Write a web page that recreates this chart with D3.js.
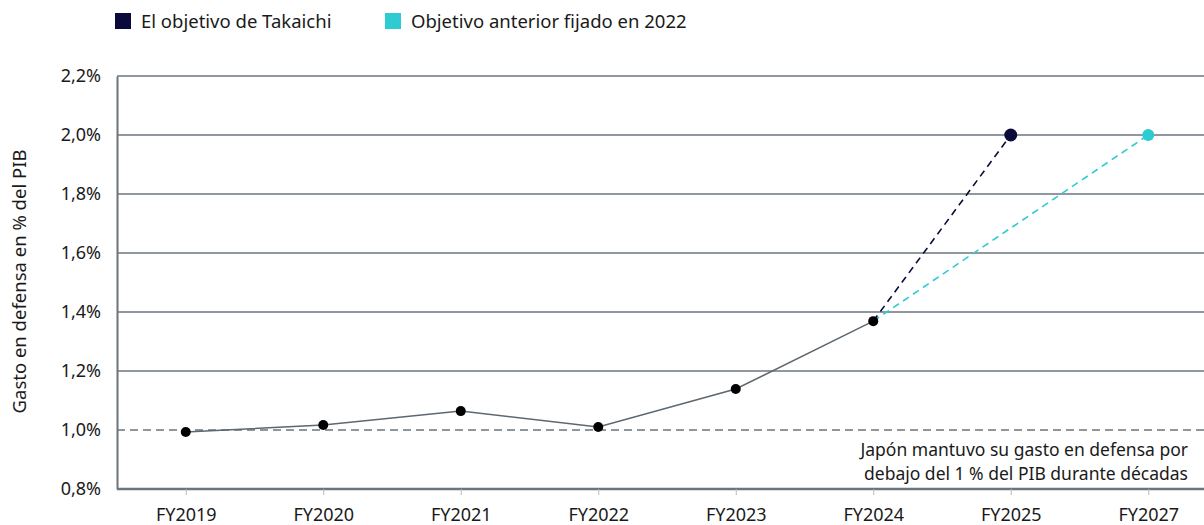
<!DOCTYPE html>
<html>
<head>
<meta charset="utf-8">
<script src="https://cdn.jsdelivr.net/npm/d3@7"></script>
<style>
  body { margin: 0; background: #fff; }
  svg text { font-family: "Noto Sans", sans-serif; fill: #1a1a1a; }
</style>
</head>
<body>
<svg id="chart" width="1204" height="525"></svg>
<script>
const years = ['FY2019', 'FY2020', 'FY2021', 'FY2022', 'FY2023', 'FY2024', 'FY2025', 'FY2027']
const actualYears = ['FY2019', 'FY2020', 'FY2021', 'FY2022', 'FY2023', 'FY2024']
const actualValues = [0.993, 1.017, 1.064, 1.010, 1.139, 1.369]
const takaichiYears = ['FY2024', 'FY2025']
const takaichiValues = [1.369, 2.0]
const previousYears = ['FY2024', 'FY2027']
const previousValues = [1.369, 2.0]
const yTicks = [0.8, 1.0, 1.2, 1.4, 1.6, 1.8, 2.0, 2.2]
const legendLabels = ['El objetivo de Takaichi', 'Objetivo anterior fijado en 2022']
const noteLines = ['Japón mantuvo su gasto en defensa por', 'debajo del 1 % del PIB durante décadas']

const navy = '#0b0b3b'
    , cyan = '#2fcbd3'
    , grid = '#6b757e'
    , plotLeft = 117
    , plotRight = 1204
    , plotTop = 76
    , plotBottom = 489
    , svg = d3.select('#chart')

const x = d3.scalePoint()
    .domain(years)
    .range([plotLeft, plotLeft + 8 * 137.5])
    .padding(0.5)
const y = d3.scaleLinear()
    .domain([0.8, 2.2])
    .range([plotBottom, plotTop])
const fmt = d => d3.format('.1f')(d).replace('.', ',') + '%'

// grid lines
svg.append('g')
    .selectAll('line')
    .data(yTicks.filter(d => d > 1.05))
    .join('line')
    .attr('x1', plotLeft)
    .attr('x2', plotRight)
    .attr('y1', y)
    .attr('y2', y)
    .attr('stroke', grid)
    .attr('stroke-width', 1.5)

// 1% reference line
svg.append('line')
    .attr('x1', plotLeft)
    .attr('x2', plotRight)
    .attr('y1', y(1.0))
    .attr('y2', y(1.0))
    .attr('stroke', grid)
    .attr('stroke-width', 1.3)
    .attr('stroke-dasharray', '8,5')

// y axis
const yAxis = svg.append('g')
    .attr('transform', `translate(${plotLeft},0)`)
    .call(d3.axisLeft(y).tickValues(yTicks).tickFormat(fmt).tickSize(0).tickPadding(16))
yAxis.select('.domain').attr('stroke', grid).attr('stroke-width', 2)
yAxis.selectAll('text').style('font-size', '18px').attr('fill', '#1a1a1a')

// x axis
const xAxis = svg.append('g')
    .attr('transform', `translate(0,${plotBottom})`)
    .call(d3.axisBottom(x).tickSize(6).tickSizeOuter(0).tickPadding(13))
xAxis.select('.domain').attr('stroke', grid).attr('stroke-width', 2.5)
    .attr('d', `M${plotLeft},0H${plotRight}`)
xAxis.selectAll('.tick line').attr('stroke', '#b5bbc0')
xAxis.selectAll('text').style('font-size', '18px').attr('fill', '#1a1a1a')

// axis title
svg.append('text')
    .attr('transform', `translate(26,${(plotTop + plotBottom) / 2 - 1}) rotate(-90)`)
    .attr('text-anchor', 'middle')
    .style('font-size', '18.5px')
    .text('Gasto en defensa en % del PIB')

// projections
const line = d3.line().x(d => x(d[0])).y(d => y(d[1]))
svg.append('path')
    .attr('d', line(d3.zip(previousYears, previousValues)))
    .attr('fill', 'none')
    .attr('stroke', cyan)
    .attr('stroke-width', 1.6)
    .attr('stroke-dasharray', '7,5')
svg.append('path')
    .attr('d', line(d3.zip(takaichiYears, takaichiValues)))
    .attr('fill', 'none')
    .attr('stroke', navy)
    .attr('stroke-width', 1.6)
    .attr('stroke-dasharray', '7,5')

// actual
svg.append('path')
    .attr('d', line(d3.zip(actualYears, actualValues)))
    .attr('fill', 'none')
    .attr('stroke', '#5c6770')
    .attr('stroke-width', 1.5)
svg.append('g')
    .selectAll('circle')
    .data(d3.zip(actualYears, actualValues))
    .join('circle')
    .attr('cx', d => x(d[0]))
    .attr('cy', d => y(d[1]))
    .attr('r', 5)
    .attr('fill', '#000')

svg.append('circle')
    .attr('cx', x(takaichiYears[1]))
    .attr('cy', y(takaichiValues[1]))
    .attr('r', 6.5)
    .attr('fill', navy)
svg.append('circle')
    .attr('cx', x(previousYears[1]))
    .attr('cy', y(previousValues[1]))
    .attr('r', 6)
    .attr('fill', cyan)

// note
svg.append('text')
    .attr('text-anchor', 'end')
    .style('font-size', '17.5px')
    .selectAll('tspan')
    .data(noteLines)
    .join('tspan')
    .attr('x', 1188)
    .attr('y', (d, i) => 456 + i * 24)
    .text(d => d)

// legend
const legendX = [115, 385]
const legend = svg.append('g')
    .selectAll('g')
    .data(legendLabels)
    .join('g')
    .attr('transform', (d, i) => `translate(${legendX[i]},13)`)
legend.append('rect')
    .attr('width', 16)
    .attr('height', 16)
    .attr('fill', (d, i) => [navy, cyan][i])
legend.append('text')
    .attr('x', 26)
    .attr('y', 15)
    .style('font-size', '18.5px')
    .text(d => d)
</script>
</body>
</html>
